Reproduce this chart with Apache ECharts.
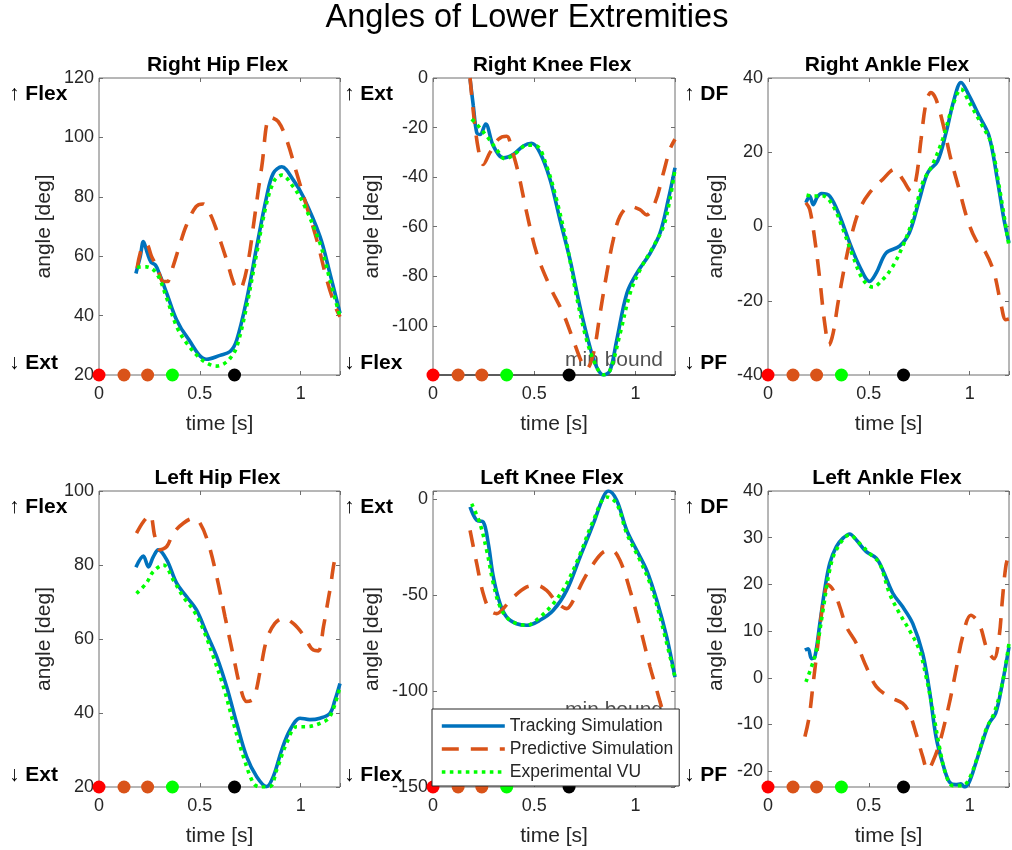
<!DOCTYPE html>
<html>
<head>
<meta charset="utf-8">
<script src="https://cdn.jsdelivr.net/npm/echarts@6/dist/echarts.min.js"></script>
<style>
html,body{margin:0;padding:0;background:#fff;}
#chart{width:1012px;height:850px;}
</style>
</head>
<body>
<div id="chart"></div>
<script>
// ---------------- DATA ----------------
const seriesNames = ['Tracking Simulation', 'Predictive Simulation', 'Experimental VU'];
const eventTimes = [0, 0.124, 0.241, 0.364, 0.672];
const eventColors = ['#FF0000', '#D95319', '#D95319', '#00FF00', '#000000'];
const timeMax = 1.195;

// Right hip
const rhTrack = [[0.183,54.2],[0.205,60],[0.22,64.9],[0.24,61],[0.258,58],[0.28,57],[0.3,54],[0.336,47.5],[0.385,38.5],[0.435,32.9],[0.534,25.3],[0.6,26.6],[0.65,27.9],[0.683,31.8],[0.732,45.3],[0.782,63.2],[0.831,80],[0.864,87.9],[0.906,90.1],[0.963,85.7],[1.013,80],[1.096,66.6],[1.145,54.2],[1.195,40.8]];
const rhPred = [[0.189,56],[0.214,63.2],[0.235,64],[0.26,60],[0.286,56.5],[0.32,51.5],[0.34,51.5],[0.356,54.2],[0.398,63.2],[0.431,70],[0.481,76.7],[0.516,77.6],[0.55,74.4],[0.583,68.8],[0.633,58.7],[0.67,50.5],[0.69,48.8],[0.71,49.8],[0.741,58.7],[0.774,74.4],[0.807,90.1],[0.848,106.8],[0.889,105.3],[0.931,99.1],[0.98,88],[1.03,76.7],[1.08,65.5],[1.13,52],[1.172,43],[1.195,39.6]];
const rhExp = [[0.189,56.3],[0.235,56.4],[0.286,54.2],[0.336,45.8],[0.385,36.3],[0.435,30.7],[0.501,25.6],[0.55,23.5],[0.584,23],[0.62,23.8],[0.65,25.6],[0.683,29.5],[0.732,43.1],[0.782,61],[0.831,77.8],[0.87,85.5],[0.906,87.3],[0.963,83.4],[1.013,77.8],[1.096,64.3],[1.145,52],[1.195,39.6]];

// Right knee
const rkTrack = [[0.183,-0.4],[0.199,-11.2],[0.216,-22],[0.232,-22.8],[0.26,-18.6],[0.298,-27.4],[0.347,-32.2],[0.397,-30.8],[0.446,-27.4],[0.487,-26.3],[0.528,-30.1],[0.578,-40.9],[0.627,-57.2],[0.677,-73.4],[0.726,-92.3],[0.775,-108.5],[0.808,-116.6],[0.841,-119.8],[0.874,-118],[0.907,-105.8],[0.957,-86.9],[1.006,-78.8],[1.072,-70.7],[1.121,-62.6],[1.162,-49],[1.195,-36.2]];
const rkPred = [[0.183,0],[0.199,-13.5],[0.224,-28.8],[0.248,-34.9],[0.281,-30.1],[0.323,-24.7],[0.364,-23.5],[0.389,-28.8],[0.421,-38.2],[0.463,-54.4],[0.512,-70.7],[0.578,-84.2],[0.643,-95],[0.693,-105.8],[0.734,-114.6],[0.759,-117.3],[0.792,-111.2],[0.825,-95],[0.858,-78.8],[0.89,-65.3],[0.923,-55.8],[0.973,-51.8],[1.022,-53.1],[1.055,-55.2],[1.096,-50.4],[1.138,-38.2],[1.17,-28.8],[1.195,-24.7]];
const rkExp = [[0.191,-16.6],[0.216,-18.6],[0.265,-23.4],[0.314,-28.8],[0.355,-32.6],[0.412,-30.1],[0.462,-27.1],[0.512,-27.4],[0.561,-35.5],[0.61,-49],[0.66,-66.6],[0.709,-88.2],[0.759,-105.8],[0.808,-116.6],[0.841,-119.7],[0.874,-118],[0.924,-103.1],[0.973,-86.9],[1.022,-77.4],[1.088,-68],[1.138,-59.9],[1.17,-49],[1.195,-36.9]];

// Right ankle
const raTrack = [[0.188,6.4],[0.207,8.2],[0.224,5.9],[0.245,8],[0.265,8.9],[0.306,8.2],[0.356,2.8],[0.405,-4.4],[0.454,-10.7],[0.504,-14.8],[0.537,-12.5],[0.586,-7.1],[0.652,-5.3],[0.701,-1.7],[0.751,7.3],[0.792,14.5],[0.841,17.6],[0.883,25.3],[0.923,34.3],[0.957,38.8],[0.998,35.2],[1.047,29.8],[1.096,24.4],[1.137,12.7],[1.17,1.9],[1.195,-4.4]];
const raPred = [[0.188,6.4],[0.207,4.6],[0.232,-3.5],[0.257,-14.3],[0.281,-26],[0.303,-31.9],[0.323,-28.7],[0.347,-20.6],[0.38,-10.7],[0.413,-2.6],[0.454,4.6],[0.504,9.1],[0.569,12.7],[0.627,15.4],[0.668,12.7],[0.71,9.5],[0.734,12.7],[0.759,23.5],[0.784,33.4],[0.808,36.1],[0.833,34.3],[0.866,28],[0.907,18.1],[0.948,10],[0.989,1.9],[1.03,-3.5],[1.08,-7.1],[1.121,-12.5],[1.154,-20.6],[1.179,-25.1],[1.195,-24.9]];
const raExp = [[0.191,8.5],[0.224,8.2],[0.273,8.2],[0.323,5.5],[0.372,-0.8],[0.421,-8],[0.471,-14.3],[0.52,-16.3],[0.569,-14.3],[0.619,-10.7],[0.668,-5.3],[0.718,1.9],[0.767,11.8],[0.817,16.8],[0.866,23.5],[0.916,32.5],[0.957,37],[0.998,33.4],[1.063,27.1],[1.105,22.6],[1.146,10.9],[1.195,-5.3]];

// Left hip
const lhTrack = [[0.183,79.4],[0.22,82.4],[0.245,79.5],[0.269,82.2],[0.294,84.1],[0.336,81.4],[0.385,75.1],[0.435,71.4],[0.484,67.8],[0.534,61.5],[0.584,55.2],[0.633,47.1],[0.683,37.2],[0.732,28.2],[0.782,22.8],[0.831,20.1],[0.864,22.8],[0.906,30],[0.947,35.4],[0.997,38.6],[1.046,38.2],[1.096,38.6],[1.145,39.9],[1.17,43.5],[1.195,48]];
const lhPred = [[0.186,88.6],[0.22,91.7],[0.253,93.5],[0.277,87.7],[0.302,84.1],[0.336,85],[0.369,88.6],[0.418,91.3],[0.468,92.6],[0.501,91.3],[0.542,85.9],[0.584,76.8],[0.625,66],[0.667,55.2],[0.7,47.1],[0.732,43.1],[0.766,43.9],[0.8,51.6],[0.831,59.7],[0.872,64.2],[0.914,65.6],[0.963,64.2],[1.013,61.1],[1.063,57],[1.088,56.8],[1.113,63.3],[1.145,73.2],[1.179,82.2],[1.195,82.2]];
const lhExp = [[0.186,72.3],[0.235,75.1],[0.269,78.2],[0.319,80],[0.369,75.9],[0.418,71.4],[0.468,67.8],[0.518,62.4],[0.567,55.2],[0.617,47.1],[0.667,37.2],[0.716,28.2],[0.766,21],[0.8,20],[0.848,20.1],[0.881,24.6],[0.93,31.8],[0.98,36.3],[1.03,36.3],[1.096,37.2],[1.145,39],[1.195,47.1]];

// Left knee
const lkTrack = [[0.183,-4],[0.216,-11],[0.248,-11.8],[0.273,-23.1],[0.298,-40.5],[0.331,-54.4],[0.364,-61.4],[0.413,-64.9],[0.463,-65.7],[0.528,-63.1],[0.594,-57.9],[0.66,-47.5],[0.726,-30.1],[0.792,-12.7],[0.841,1.2],[0.866,4.3],[0.907,-0.5],[0.957,-16.2],[1.006,-26.6],[1.055,-37],[1.105,-52.7],[1.154,-71.8],[1.195,-92.7]];
const lkPred = [[0.183,-16.2],[0.216,-33.6],[0.248,-49.2],[0.281,-57.9],[0.314,-59.6],[0.355,-56],[0.397,-51],[0.463,-45.7],[0.512,-44.9],[0.561,-47.5],[0.61,-53.6],[0.66,-57],[0.693,-52.7],[0.742,-42.3],[0.792,-33.6],[0.841,-27.5],[0.882,-26.6],[0.923,-31.8],[0.973,-47.5],[1.022,-66.6],[1.072,-87.5],[1.105,-99.6],[1.138,-111.8],[1.17,-123],[1.195,-130]];
const lkExp = [[0.191,-2.3],[0.232,-12.7],[0.265,-26.6],[0.298,-44],[0.331,-56],[0.38,-63.1],[0.463,-65.7],[0.528,-61.4],[0.594,-54.4],[0.66,-44],[0.726,-28.7],[0.792,-11],[0.858,1.2],[0.907,-2.3],[0.957,-17.9],[1.022,-31.8],[1.072,-44],[1.121,-61.4],[1.195,-92.7]];

// Left ankle
const laTrack = [[0.183,5.9],[0.199,6.2],[0.216,4.1],[0.232,4.4],[0.257,11.6],[0.281,18.8],[0.306,24.5],[0.339,28.1],[0.372,29.9],[0.405,30.8],[0.438,29.5],[0.487,27],[0.537,25.6],[0.569,23.1],[0.619,18.1],[0.668,15.2],[0.718,11.6],[0.767,5.2],[0.8,-2.6],[0.833,-12.6],[0.866,-18.3],[0.899,-22.3],[0.932,-22.9],[0.957,-22.7],[0.974,-23.4],[0.998,-22.3],[1.03,-18.3],[1.072,-12.6],[1.096,-9.8],[1.129,-7.6],[1.162,-1.2],[1.195,6.6]];
const laPred = [[0.183,-12.6],[0.204,-8.4],[0.224,-1.2],[0.248,7.4],[0.273,15.9],[0.298,19.9],[0.323,18.8],[0.356,15.2],[0.389,10.9],[0.438,7.4],[0.487,2.4],[0.537,-1.9],[0.602,-4.1],[0.668,-5.5],[0.701,-7.6],[0.734,-11.9],[0.767,-16.9],[0.792,-19.8],[0.817,-18],[0.85,-14.1],[0.899,-5.5],[0.932,1.6],[0.965,8.8],[1.006,13.4],[1.047,11.6],[1.088,5.9],[1.121,4.1],[1.146,8.8],[1.162,16.6],[1.179,23.8],[1.195,26.6]];
const laExp = [[0.188,-0.9],[0.216,2.4],[0.24,5.9],[0.273,14.5],[0.306,23.1],[0.339,27.4],[0.405,30.6],[0.454,28.8],[0.504,26.6],[0.553,24.5],[0.602,18.1],[0.652,13.8],[0.701,10.2],[0.751,5.9],[0.784,0.2],[0.817,-6.9],[0.85,-14.8],[0.883,-20.9],[0.916,-23.1],[0.965,-23.1],[0.998,-21.6],[1.039,-16.9],[1.08,-11.2],[1.121,-7.6],[1.162,-1.2],[1.195,7.4]];

// min bound (knees)
const rkMinBound = -119.8;
const lkMinBound = -120;
const minBoundLabelT = 0.627;

// ---------------- LAYOUT ----------------
const FONT = '"Liberation Sans", Arial, Helvetica, sans-serif';
const AX = '#262626';
const BOX = '#6e6e6e';
const C_TRACK = '#0072BD', C_PRED = '#D95319', C_EXP = '#00FF00';

const panels = [
  {title:'Right Hip Flex', up:'\u2191 Flex', down:'\u2193 Ext', yMin:20, yMax:120, step:20, useInterval:true,
   data:[rhTrack, rhPred, rhExp], left:99, top:78, width:241, height:297, nameGap:44, annoX:9},
  {title:'Right Knee Flex', up:'\u2191 Ext', down:'\u2193 Flex', yMin:rkMinBound, yMax:0, step:20, useInterval:false, split:6,
   data:[rkTrack, rkPred, rkExp], left:433, top:78, width:242, height:297, nameGap:50, annoX:344, minBound:rkMinBound, mbOffset:-15},
  {title:'Right Ankle Flex', up:'\u2191 DF', down:'\u2193 PF', yMin:-40, yMax:40, step:20, useInterval:true,
   data:[raTrack, raPred, raExp], left:768, top:78, width:242, height:297, nameGap:41, annoX:684},
  {title:'Left Hip Flex', up:'\u2191 Flex', down:'\u2193 Ext', yMin:20, yMax:100, step:20, useInterval:true,
   data:[lhTrack, lhPred, lhExp], left:99, top:491, width:241, height:296, nameGap:44, annoX:9},
  {title:'Left Knee Flex', up:'\u2191 Ext', down:'\u2193 Flex', yMin:-150, yMax:4.3, step:50, useInterval:false, split:3,
   data:[lkTrack, lkPred, lkExp], left:433, top:491, width:242, height:296, nameGap:50, annoX:344, minBound:lkMinBound, mbOffset:-19},
  {title:'Left Ankle Flex', up:'\u2191 DF', down:'\u2193 PF', yMin:-23.4, yMax:40, step:10, useInterval:false, split:6,
   data:[laTrack, laPred, laExp], left:768, top:491, width:242, height:296, nameGap:41, annoX:684}
];

function stepFormatter(step){
  return function(v){
    const k = v/step;
    if (Math.abs(k - Math.round(k)) > 1e-6) return '';
    const r = +(Math.round(k)*step).toFixed(6);
    return String(r === 0 ? 0 : r);
  };
}

const grid = [], xAxis = [], yAxis = [], series = [], graphic = [];

graphic.push({type:'text', x:527, y:18, silent:true,
  style:{text:'Angles of Lower Extremities', font:'normal 32.5px '+FONT, fill:'#000', align:'center', verticalAlign:'middle', textAlign:'center', textVerticalAlign:'middle'}});

panels.forEach((p, i) => {
  grid.push({left:p.left, top:p.top, width:p.width, height:p.height, show:true,
    borderColor:BOX, borderWidth:1, backgroundColor:'transparent'});
  const tickCommon = {show:true, inside:true, length:4, lineStyle:{color:BOX, width:1}};
  xAxis.push({type:'value', gridIndex:i, min:0, max:timeMax, interval:0.5, position:'bottom',
    axisLine:{show:false, onZero:false}, axisTick:tickCommon, splitLine:{show:false},
    axisLabel:{color:AX, fontFamily:FONT, fontSize:18, margin:10, formatter:stepFormatter(0.5)},
    name:'time [s]', nameLocation:'middle', nameGap:39,
    nameTextStyle:{color:AX, fontFamily:FONT, fontSize:21}});
  xAxis.push({type:'value', gridIndex:i, min:0, max:timeMax, interval:0.5, position:'top',
    axisLine:{show:false, onZero:false}, axisTick:tickCommon, splitLine:{show:false}, axisLabel:{show:false}});
  const yBase = {type:'value', gridIndex:i, min:p.yMin, max:p.yMax, splitLine:{show:false},
    axisLine:{show:false, onZero:false}, axisTick:tickCommon};
  if (p.useInterval) yBase.interval = p.step; else yBase.splitNumber = p.split;
  yAxis.push(Object.assign({}, yBase, {position:'left',
    axisLabel:{color:AX, fontFamily:FONT, fontSize:18, margin:5, formatter:stepFormatter(p.step)},
    name:'angle [deg]', nameLocation:'middle', nameGap:p.nameGap,
    nameTextStyle:{color:AX, fontFamily:FONT, fontSize:21}}));
  yAxis.push(Object.assign({}, yBase, {position:'right', axisLabel:{show:false}}));

  const xi = 2*i, yi = 2*i;
  const styles = [
    {color:C_TRACK, width:3.6, type:'solid'},
    {color:C_PRED, width:3.6, type:[17,12]},
    {color:C_EXP, width:3.6, type:[3.6,4.4]}
  ];
  if (p.minBound !== undefined) {
    series.push({type:'line', xAxisIndex:xi, yAxisIndex:yi, data:[[0,p.minBound],[timeMax,p.minBound]],
      symbol:'none', silent:true, lineStyle:{color:'#000', width:1}, z:1, clip:false});
    series.push({type:'scatter', xAxisIndex:xi, yAxisIndex:yi, data:[[minBoundLabelT, p.minBound]],
      symbolSize:0, silent:true, z:1,
      label:{show:true, position:'right', distance:5, offset:[0,p.mbOffset], formatter:'min bound',
        color:AX, fontFamily:FONT, fontSize:21}});
  }
  p.data.forEach((d, k) => {
    series.push({name:seriesNames[k], type:'line', xAxisIndex:xi, yAxisIndex:yi, data:d,
      symbol:'none', showSymbol:false, smooth:0.35, lineStyle:styles[k], itemStyle:{color:styles[k].color},
      z:2+k, silent:true});
  });
  series.push({type:'scatter', xAxisIndex:xi, yAxisIndex:yi, clip:false, z:6, silent:true,
    symbolSize:13,
    data:eventTimes.map((t, j) => ({value:[t, p.yMin], itemStyle:{color:eventColors[j], opacity:1}}))});

  const cx = p.left + p.width/2;
  graphic.push({type:'text', x:cx - 2, y:p.top-13, silent:true,
    style:{text:p.title, font:'bold 21px '+FONT, fill:'#000', align:'center', verticalAlign:'middle', textAlign:'center', textVerticalAlign:'middle'}});
  graphic.push({type:'text', x:p.annoX, y:p.top+16, silent:true,
    style:{text:p.up, font:'bold 21px '+FONT, fill:'#000', align:'left', verticalAlign:'middle', textAlign:'left', textVerticalAlign:'middle'}});
  graphic.push({type:'text', x:p.annoX, y:p.top+p.height-12, silent:true,
    style:{text:p.down, font:'bold 21px '+FONT, fill:'#000', align:'left', verticalAlign:'middle', textAlign:'left', textVerticalAlign:'middle'}});
});

const option = {
  animation:false,
  backgroundColor:'#fff',
  textStyle:{fontFamily:FONT},
  grid, xAxis, yAxis, series, graphic,
  legend:{
    data:seriesNames, orient:'vertical', left:432, top:709,
    itemWidth:63, itemHeight:14, itemGap:5,
    padding:[8,6,5,8],
    backgroundColor:'#fff', borderColor:AX, borderWidth:1, borderRadius:0,
    itemStyle:{opacity:0},
    lineStyle:{width:3.6},
    textStyle:{fontFamily:FONT, fontSize:17.5, color:AX},
    selectedMode:false, z:10
  }
};

const chart = echarts.init(document.getElementById('chart'), null, {renderer:'canvas'});
chart.setOption(option);
</script>
</body>
</html>
